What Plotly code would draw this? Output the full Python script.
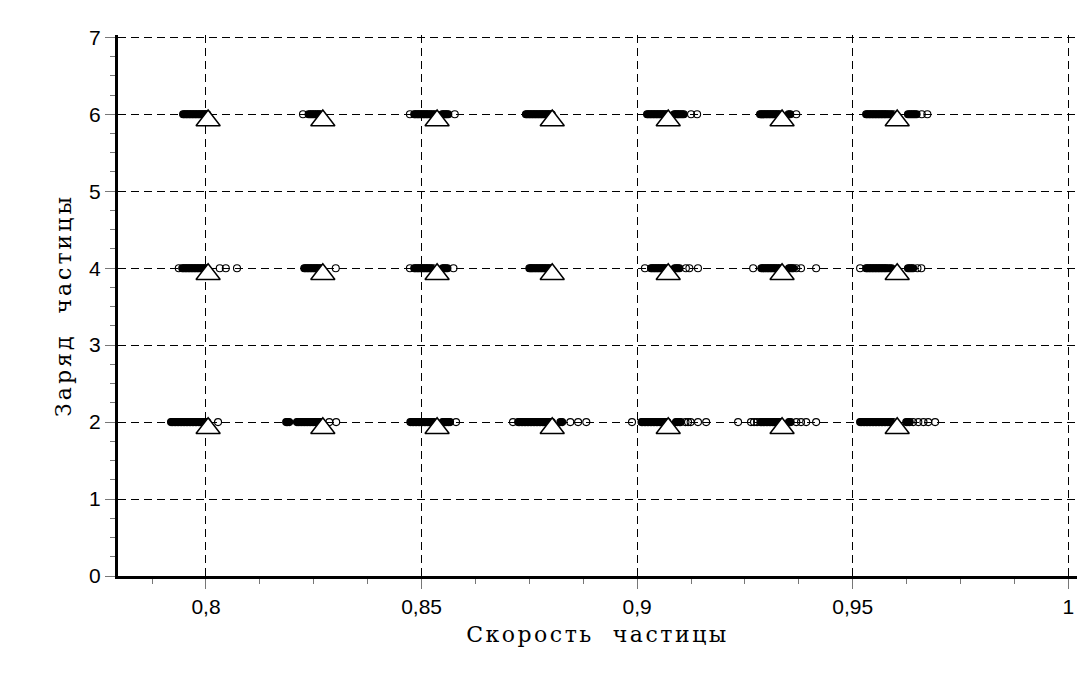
import plotly.graph_objects as go

# ---- data ----
charges = [2, 4, 6]

speeds_q2 = [
    0.7919, 0.7922, 0.7926, 0.7929, 0.7933, 0.7936, 0.7940, 0.7943, 0.7947, 0.7950, 0.7954, 0.7957,
    0.7961, 0.7964, 0.7968, 0.7971, 0.7975, 0.7978, 0.7982, 0.7985, 0.7989, 0.7992, 0.7996, 0.7999,
    0.8003, 0.8028,
    0.8186, 0.8189, 0.8193, 0.8211, 0.8214, 0.8218, 0.8221, 0.8225, 0.8228, 0.8232, 0.8235, 0.8239,
    0.8242, 0.8246, 0.8249, 0.8253, 0.8256, 0.8260, 0.8263, 0.8267, 0.8286, 0.8302,
    0.8474, 0.8478, 0.8481, 0.8485, 0.8488, 0.8492, 0.8495, 0.8499, 0.8502, 0.8506, 0.8509, 0.8513,
    0.8516, 0.8520, 0.8524, 0.8529, 0.8549, 0.8552, 0.8556, 0.8559, 0.8563, 0.8566, 0.8580,
    0.8712, 0.8724, 0.8727, 0.8731, 0.8734, 0.8738, 0.8741, 0.8745, 0.8748, 0.8752, 0.8755, 0.8759,
    0.8762, 0.8766, 0.8769, 0.8773, 0.8776, 0.8780, 0.8783, 0.8787, 0.8790, 0.8794, 0.8798, 0.8802,
    0.8822, 0.8826, 0.8845, 0.8863, 0.8882,
    0.8988, 0.9010, 0.9013, 0.9017, 0.9020, 0.9024, 0.9027, 0.9031, 0.9034, 0.9038, 0.9041, 0.9045,
    0.9048, 0.9052, 0.9055, 0.9059, 0.9062, 0.9066, 0.9070, 0.9090, 0.9094, 0.9098, 0.9101, 0.9112,
    0.9118, 0.9124, 0.9141, 0.9160,
    0.9234, 0.9264, 0.9271, 0.9278, 0.9286, 0.9289, 0.9293, 0.9296, 0.9300, 0.9303, 0.9307, 0.9310,
    0.9314, 0.9317, 0.9321, 0.9324, 0.9328, 0.9332, 0.9352, 0.9356, 0.9369, 0.9380, 0.9392, 0.9415,
    0.9517, 0.9520, 0.9524, 0.9527, 0.9531, 0.9534, 0.9538, 0.9541, 0.9545, 0.9548, 0.9552, 0.9555,
    0.9559, 0.9562, 0.9566, 0.9569, 0.9573, 0.9576, 0.9580, 0.9584, 0.9589, 0.9594, 0.9624, 0.9628,
    0.9632, 0.9640, 0.9652, 0.9664, 0.9675, 0.9691,
]

speeds_q4 = [
    0.7937, 0.7945, 0.7948, 0.7952, 0.7955, 0.7959, 0.7962, 0.7966, 0.7969, 0.7973, 0.7976, 0.7980,
    0.7983, 0.7987, 0.7990, 0.7994, 0.7997, 0.8001, 0.8032, 0.8046, 0.8072,
    0.8228, 0.8231, 0.8235, 0.8238, 0.8242, 0.8245, 0.8249, 0.8252, 0.8256, 0.8259, 0.8263, 0.8267,
    0.8301,
    0.8473, 0.8483, 0.8486, 0.8490, 0.8493, 0.8497, 0.8500, 0.8504, 0.8507, 0.8511, 0.8514, 0.8518,
    0.8522, 0.8527, 0.8549, 0.8552, 0.8556, 0.8560, 0.8574,
    0.8750, 0.8753, 0.8756, 0.8759, 0.8763, 0.8766, 0.8770, 0.8773, 0.8777, 0.8780, 0.8784, 0.8787,
    0.8791, 0.8795, 0.8799,
    0.9018, 0.9032, 0.9035, 0.9039, 0.9042, 0.9046, 0.9049, 0.9053, 0.9056, 0.9060, 0.9063, 0.9067,
    0.9087, 0.9091, 0.9094, 0.9098, 0.9113, 0.9121, 0.9141,
    0.9269, 0.9288, 0.9291, 0.9295, 0.9298, 0.9302, 0.9305, 0.9309, 0.9312, 0.9316, 0.9319, 0.9323,
    0.9327, 0.9331, 0.9352, 0.9355, 0.9359, 0.9362, 0.9369, 0.9380, 0.9415,
    0.9517, 0.9531, 0.9534, 0.9538, 0.9541, 0.9545, 0.9548, 0.9552, 0.9555, 0.9559, 0.9562, 0.9566,
    0.9569, 0.9573, 0.9576, 0.9580, 0.9585, 0.9590, 0.9628, 0.9632, 0.9636, 0.9640, 0.9650, 0.9659,
]

speeds_q6 = [
    0.7947, 0.7950, 0.7954, 0.7957, 0.7961, 0.7964, 0.7968, 0.7971, 0.7975, 0.7978, 0.7982, 0.7985,
    0.7989, 0.7992, 0.7996, 0.7999, 0.8003,
    0.8225, 0.8238, 0.8242, 0.8246, 0.8250, 0.8254, 0.8258, 0.8262, 0.8266,
    0.8473, 0.8483, 0.8486, 0.8490, 0.8493, 0.8497, 0.8500, 0.8504, 0.8507, 0.8511, 0.8514, 0.8518,
    0.8522, 0.8527, 0.8532, 0.8548, 0.8551, 0.8555, 0.8558, 0.8562, 0.8577,
    0.8742, 0.8745, 0.8749, 0.8752, 0.8756, 0.8759, 0.8763, 0.8766, 0.8770, 0.8773, 0.8777, 0.8780,
    0.8784, 0.8787, 0.8791, 0.8794, 0.8798, 0.8802,
    0.9023, 0.9026, 0.9030, 0.9033, 0.9037, 0.9040, 0.9044, 0.9047, 0.9051, 0.9054, 0.9058, 0.9061,
    0.9065, 0.9069, 0.9086, 0.9089, 0.9093, 0.9096, 0.9100, 0.9104, 0.9108, 0.9125, 0.9139,
    0.9285, 0.9288, 0.9292, 0.9295, 0.9299, 0.9302, 0.9306, 0.9309, 0.9313, 0.9316, 0.9320, 0.9323,
    0.9327, 0.9331, 0.9351, 0.9355, 0.9369,
    0.9531, 0.9534, 0.9538, 0.9541, 0.9545, 0.9548, 0.9552, 0.9555, 0.9559, 0.9562, 0.9566, 0.9569,
    0.9573, 0.9576, 0.9580, 0.9584, 0.9589, 0.9594, 0.9628, 0.9632, 0.9636, 0.9640, 0.9644, 0.9648,
    0.9660, 0.9673,
]

mean_speeds = [0.8005, 0.8271, 0.8536, 0.8803, 0.9072, 0.9336, 0.9603]

x_ticks = [0.8, 0.85, 0.9, 0.95, 1.0]
y_ticks = [0, 1, 2, 3, 4, 5, 6, 7]
x_title = "Скорость\u00a0\u00a0частицы"
y_title = "Заряд\u00a0\u00a0частицы"


def overlap_fill(speeds, gap=0.0005):
    # circles that overlap a neighbour merge into a solid black band (as in the source image)
    out = []
    for i, s in enumerate(speeds):
        near = any(abs(s - t) <= gap for j, t in enumerate(speeds) if j != i)
        out.append("black" if near else "rgba(0,0,0,0)")
    return out


def spaced(text, px):
    return '<span style="letter-spacing:%spx">%s</span>' % (px, text)


# ---- figure ----
fig = go.Figure()

for q, speeds in zip(charges, [speeds_q2, speeds_q4, speeds_q6]):
    fig.add_trace(go.Scatter(
        x=speeds, y=[q] * len(speeds), mode="markers",
        marker=dict(symbol="circle", size=7, color=overlap_fill(speeds),
                    line=dict(width=1.1, color="black")),
        showlegend=False, hoverinfo="x+y",
    ))

for q in charges:
    fig.add_trace(go.Scatter(
        x=mean_speeds, y=[q] * len(mean_speeds), mode="markers", yaxis="y2",
        marker=dict(symbol="triangle-up", size=21, color="white", line=dict(width=1.5, color="black")),
        showlegend=False, hoverinfo="x+y",
    ))

axis_font = dict(family="Liberation Sans, Arial, sans-serif", size=21, color="black")
title_font = dict(family="DejaVu Serif, Liberation Serif, serif", size=22, color="black")

Y_TOP = 7.03
SHIFT = 0.08

fig.update_layout(
    width=1091, height=689,
    margin=dict(l=118, r=14, t=35, b=113),
    paper_bgcolor="white", plot_bgcolor="white",
    separators=", ",
    xaxis=dict(
        range=[0.7796, 1.002], tickvals=x_ticks, tickfont=axis_font,
        showgrid=True, gridcolor="black", gridwidth=1, griddash="8px,5px",
        showline=True, linecolor="black", linewidth=3,
        ticks="outside", ticklen=10, tickcolor="#777", tickwidth=1,
        minor=dict(dtick=0.0125, tick0=0.8, ticks="outside", ticklen=5, tickcolor="#777", showgrid=False),
        zeroline=False,
        title=dict(text=spaced(x_title, 2.5), font=title_font, standoff=10),
    ),
    yaxis=dict(
        range=[0, Y_TOP], tickvals=y_ticks, tickfont=axis_font,
        showgrid=True, gridcolor="black", gridwidth=1, griddash="8px,5px",
        showline=True, linecolor="black", linewidth=3,
        ticks="outside", ticklen=10, tickcolor="#777", tickwidth=1,
        minor=dict(dtick=0.25, tick0=0, ticks="outside", ticklen=5, tickcolor="#777", showgrid=False),
        zeroline=False,
        title=dict(text=spaced(y_title, 3), font=title_font, standoff=12),
    ),
    yaxis2=dict(
        overlaying="y", range=[SHIFT, Y_TOP + SHIFT], visible=False,
    ),
)

fig.write_html("out.html")
